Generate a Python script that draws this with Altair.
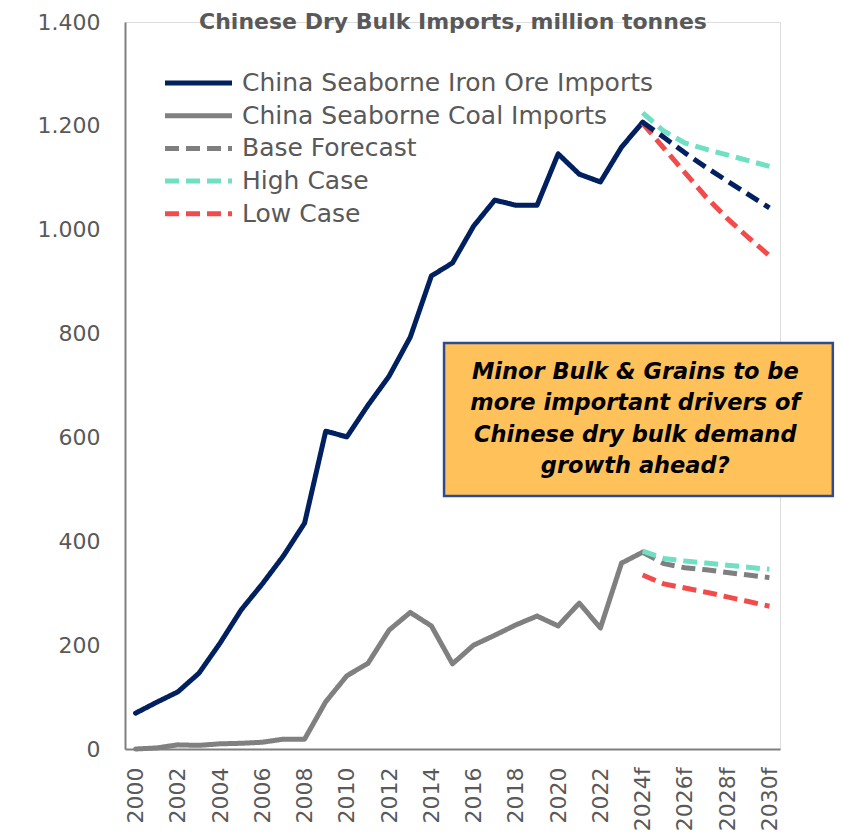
import altair as alt
import pandas as pd

# Historical seaborne imports, million tonnes
hist_years = list(range(2000, 2025))
iron_ore = [69, 90, 110, 146, 204, 268, 318, 372, 435, 612, 601, 662, 718, 793,
            911, 936, 1007, 1057, 1047, 1047, 1146, 1107, 1092, 1159, 1207]
coal = [0, 2, 8, 7, 10, 11, 13, 19, 19, 91, 141, 165, 229, 263, 237, 164, 200,
        219, 239, 256, 237, 281, 233, 358, 379]

# Forecast scenarios, 2024 to 2030
fc_years = list(range(2024, 2031))
iron_base = [1207, 1178, 1148, 1120, 1094, 1068, 1042]
iron_high = [1225, 1190, 1167, 1155, 1144, 1133, 1122]
iron_low = [1205, 1157, 1110, 1063, 1022, 985, 950]
coal_base = [379, 357, 349, 345, 340, 335, 330]
coal_high = [381, 367, 362, 358, 354, 350, 346]
coal_low = [335, 318, 310, 302, 293, 284, 275]

LEGEND = ["China Seaborne Iron Ore Imports", "China Seaborne Coal Imports",
          "Base Forecast", "High Case", "Low Case"]
COLORS = ["#002060", "#808080", "#7f7f7f", "#6fe0c3", "#f24b4b"]
DASH = [14, 7]
DASHES = [[1, 0], [1, 0], DASH, DASH, DASH]
NAVY = "#002060"
TEXT_GREY = "#595959"
FONT = "DejaVu Sans"
TITLE = "Chinese Dry Bulk Imports, million tonnes"

note_text = "Minor Bulk & Grains to be\nmore important drivers of\nChinese dry bulk demand\ngrowth ahead?"
note_box = {"x0": 2014.6, "x1": 2033.0, "y0": 487, "y1": 782}

rows = []
for y, v in zip(hist_years, iron_ore):
    rows.append({"year": y, "value": v, "legend": LEGEND[0], "line": "iron"})
for y, v in zip(hist_years, coal):
    rows.append({"year": y, "value": v, "legend": LEGEND[1], "line": "coal"})
hist = pd.DataFrame(rows)

rows = []
for key, name, series in [("iron_high", "High Case", iron_high),
                          ("iron_low", "Low Case", iron_low),
                          ("coal_base", "Base Forecast", coal_base),
                          ("coal_high", "High Case", coal_high),
                          ("coal_low", "Low Case", coal_low)]:
    for y, v in zip(fc_years, series):
        rows.append({"year": y, "value": v, "legend": name, "line": key})
fc = pd.DataFrame(rows)

iron_base_df = pd.DataFrame({"year": fc_years, "value": iron_base})

x_scale = alt.Scale(domain=[1999.5, 2030.5], nice=False, zero=False)
y_scale = alt.Scale(domain=[0, 1400], nice=False)

x_enc = alt.X("year:Q", scale=x_scale, title=None,
              axis=alt.Axis(values=list(range(2000, 2031, 2)),
                            labelExpr="datum.value >= 2024 ? datum.value + 'f' : '' + datum.value",
                            labelAngle=-90, labelPadding=18, ticks=False, grid=False,
                            domainColor="#7f7f7f", domainWidth=2,
                            labelFont=FONT, labelFontSize=22, labelColor=TEXT_GREY))
y_enc = alt.Y("value:Q", scale=y_scale, title=None,
              axis=alt.Axis(values=list(range(0, 1401, 200)),
                            labelExpr="replace(format(datum.value, ','), ',', '.')",
                            labelPadding=25, ticks=False, grid=False,
                            domainColor="#7f7f7f", domainWidth=2,
                            labelFont=FONT, labelFontSize=22, labelColor=TEXT_GREY))

legend = alt.Legend(title=None, orient="none", legendX=37.5, legendY=50,
                    symbolType="stroke", symbolSize=4489, symbolStrokeWidth=5,
                    clipHeight=22, rowPadding=7.7, padding=0,
                    labelFont=FONT, labelFontSize=25, labelColor=TEXT_GREY,
                    labelLimit=600, labelOffset=7.5)

color_enc = alt.Color("legend:N", scale=alt.Scale(domain=LEGEND, range=COLORS), legend=legend)
dash_enc = alt.StrokeDash("legend:N", scale=alt.Scale(domain=LEGEND, range=DASHES), legend=legend)

solid = alt.Chart(hist).mark_line(strokeWidth=5, strokeCap="round", strokeJoin="round").encode(
    x=x_enc, y=y_enc, color=color_enc, strokeDash=dash_enc, detail="line:N")

dashed = alt.Chart(fc).mark_line(strokeWidth=5, strokeJoin="round").encode(
    x=alt.X("year:Q", scale=x_scale), y=alt.Y("value:Q", scale=y_scale),
    color=color_enc, strokeDash=dash_enc, detail="line:N")

iron_base_line = alt.Chart(iron_base_df).mark_line(
    strokeWidth=5, color=NAVY, strokeDash=DASH, strokeJoin="round").encode(
    x=alt.X("year:Q", scale=x_scale), y=alt.Y("value:Q", scale=y_scale))

box = alt.Chart(pd.DataFrame([note_box])).mark_rect(
    fill="#ffc25a", stroke="#2f4a8f", strokeWidth=2.5).encode(
    x=alt.X("x0:Q", scale=x_scale), x2="x1:Q",
    y=alt.Y("y0:Q", scale=y_scale), y2="y1:Q")

note = alt.Chart(pd.DataFrame([{"x": (note_box["x0"] + note_box["x1"]) / 2 - 0.15,
                                "y": (note_box["y0"] + note_box["y1"]) / 2,
                                "t": note_text}])).mark_text(
    font=FONT, fontSize=22.5, fontWeight="bold", fontStyle="italic", color="black",
    lineBreak="\n", lineHeight=31.5, align="center", baseline="middle", dy=-48).encode(
    x=alt.X("x:Q", scale=x_scale), y=alt.Y("y:Q", scale=y_scale), text="t:N")

# Chart heading, sitting just inside the top of the plot area
heading = alt.Chart(pd.DataFrame([{"t": TITLE}])).mark_text(
    font=FONT, fontSize=22, fontWeight="bold", color=TEXT_GREY,
    align="center", baseline="alphabetic").encode(
    x=alt.value(328), y=alt.value(7), text="t:N")

chart = alt.layer(solid, dashed, iron_base_line, box, note, heading).properties(
    width=655, height=727,
    autosize=alt.AutoSizeParams(type="none"),
    padding={"left": 125, "top": 22, "right": 61, "bottom": 84},
).configure_view(stroke=None).configure(background="white")

chart.save("out.html", embed_options={"renderer": "svg", "actions": False})
